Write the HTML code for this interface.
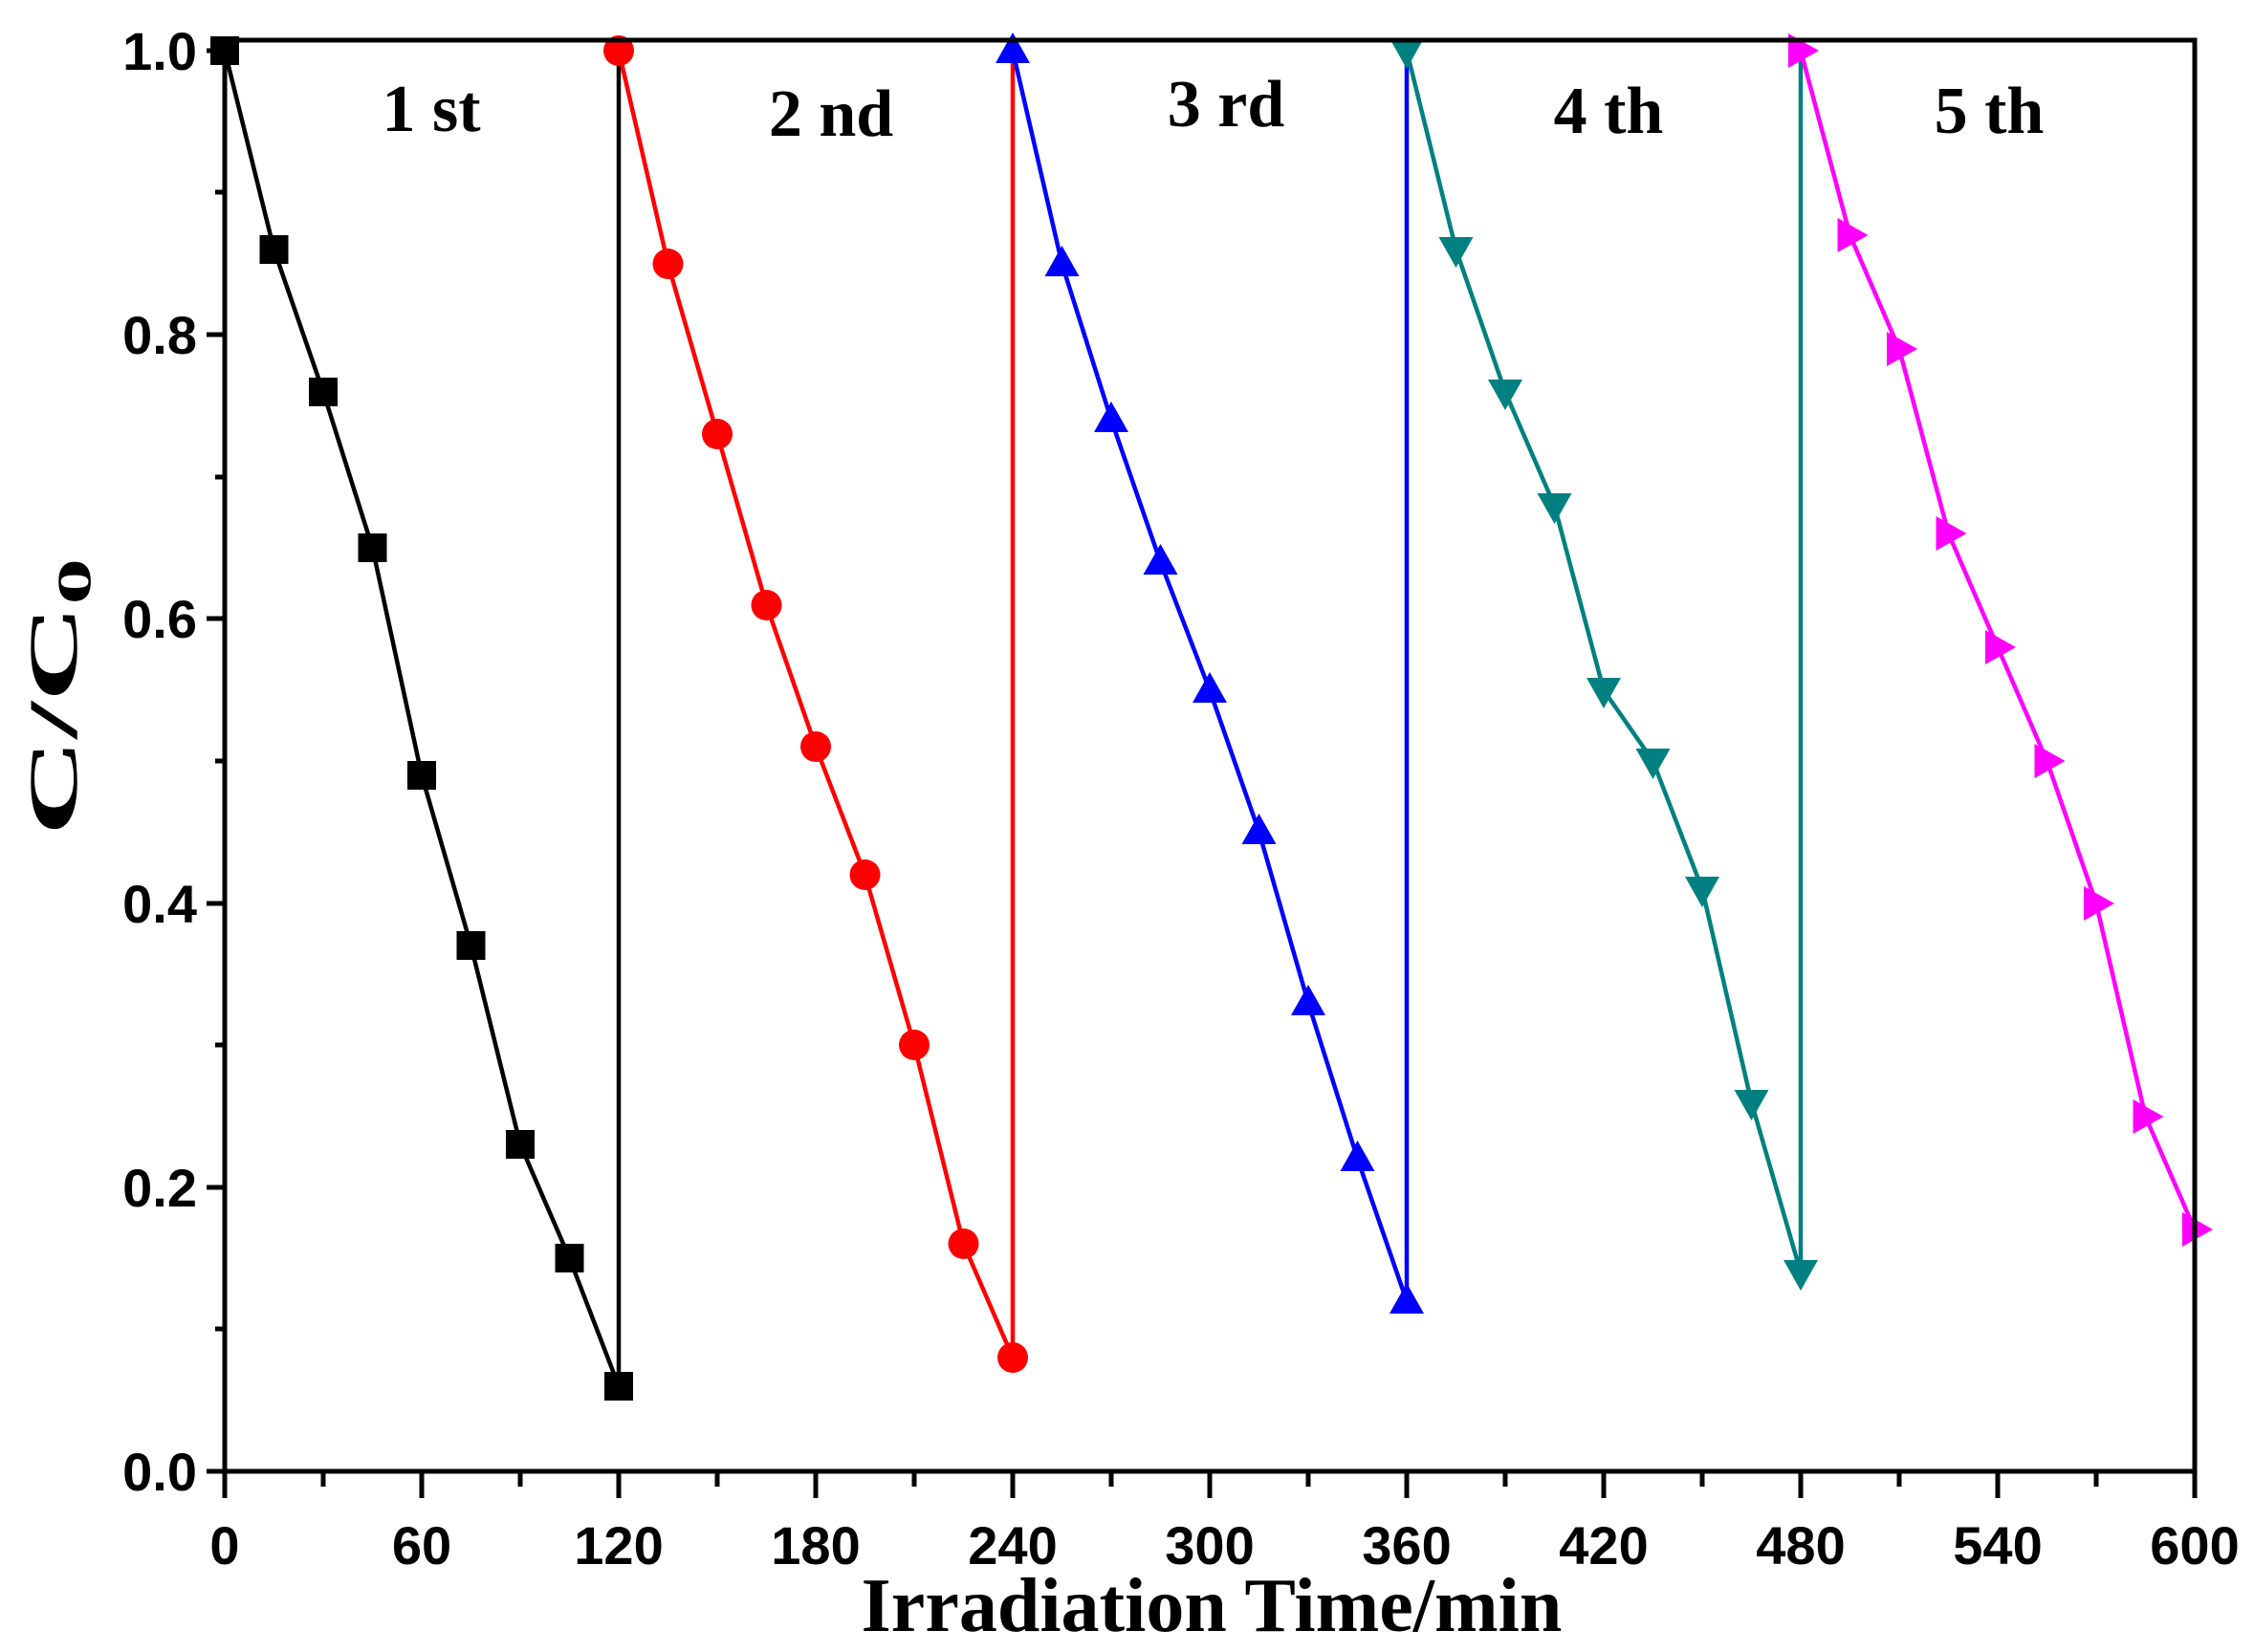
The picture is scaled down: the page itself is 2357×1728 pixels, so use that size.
<!DOCTYPE html>
<html><head><meta charset="utf-8"><style>
html,body{margin:0;padding:0;background:#fff;}
svg{display:block;}
</style></head><body>
<svg width="2357" height="1728" viewBox="0 0 2357 1728" xmlns="http://www.w3.org/2000/svg">
<defs>
<rect id="sq" x="-15" y="-15" width="30" height="30" fill="#000"/>
<circle id="ci" r="16" fill="#ff0000"/>
<polygon id="tu" points="0,-19 18,13 -18,13" fill="#0000ff"/>
<polygon id="td" points="0,19 18,-13 -18,-13" fill="#008080"/>
<polygon id="tr" points="19,0 -13,-18 -13,18" fill="#ff00ff"/>
</defs>
<rect width="2357" height="1728" fill="#fff"/>
<g fill="none" stroke-width="4.5" stroke-linejoin="round">
<polyline stroke="#000" points="235,53 286.5,261 338,410 389.5,573 441,811 492.5,989 544,1197 595.5,1316 647,1450 647,53"/>
<polyline stroke="#ff0000" points="647,53 698.5,276 750,454 801.5,633 853,781 904.5,915 956,1093 1007.5,1301 1059,1420 1059,53"/>
<polyline stroke="#0000ff" points="1059,53 1110.5,276 1162,439 1213.5,588 1265,722 1316.5,870 1368,1049 1419.5,1212 1471,1361 1471,53"/>
<polyline stroke="#008080" points="1471,53 1522.5,261 1574,410 1625.5,529 1677,722 1728.5,796 1780,930 1831.5,1153 1883,1331 1883,53"/>
<polyline stroke="#ff00ff" points="1883,53 1934.5,246 1986,365 2037.5,558 2089,677 2140.5,796 2192,945 2243.5,1168 2295,1286"/>
</g>
<g>
<use href="#sq" x="235" y="53"/><use href="#sq" x="286.5" y="261"/><use href="#sq" x="338" y="410"/><use href="#sq" x="389.5" y="573"/><use href="#sq" x="441" y="811"/><use href="#sq" x="492.5" y="989"/><use href="#sq" x="544" y="1197"/><use href="#sq" x="595.5" y="1316"/><use href="#sq" x="647" y="1450"/>
<use href="#ci" x="647" y="53"/><use href="#ci" x="698.5" y="276"/><use href="#ci" x="750" y="454"/><use href="#ci" x="801.5" y="633"/><use href="#ci" x="853" y="781"/><use href="#ci" x="904.5" y="915"/><use href="#ci" x="956" y="1093"/><use href="#ci" x="1007.5" y="1301"/><use href="#ci" x="1059" y="1420"/>
<use href="#tu" x="1059" y="53"/><use href="#tu" x="1110.5" y="276"/><use href="#tu" x="1162" y="439"/><use href="#tu" x="1213.5" y="588"/><use href="#tu" x="1265" y="722"/><use href="#tu" x="1316.5" y="870"/><use href="#tu" x="1368" y="1049"/><use href="#tu" x="1419.5" y="1212"/><use href="#tu" x="1471" y="1361"/>
<use href="#td" x="1471" y="53"/><use href="#td" x="1522.5" y="261"/><use href="#td" x="1574" y="410"/><use href="#td" x="1625.5" y="529"/><use href="#td" x="1677" y="722"/><use href="#td" x="1728.5" y="796"/><use href="#td" x="1780" y="930"/><use href="#td" x="1831.5" y="1153"/><use href="#td" x="1883" y="1331"/>
<use href="#tr" x="1883" y="53"/><use href="#tr" x="1934.5" y="246"/><use href="#tr" x="1986" y="365"/><use href="#tr" x="2037.5" y="558"/><use href="#tr" x="2089" y="677"/><use href="#tr" x="2140.5" y="796"/><use href="#tr" x="2192" y="945"/><use href="#tr" x="2243.5" y="1168"/><use href="#tr" x="2295" y="1286"/>
</g>
<rect x="235" y="42" width="2060" height="1497" fill="none" stroke="#000" stroke-width="5"/>
<g stroke="#000" stroke-width="5">
<line x1="216" y1="1539" x2="235" y2="1539"/><line x1="216" y1="1242" x2="235" y2="1242"/><line x1="216" y1="945" x2="235" y2="945"/><line x1="216" y1="647" x2="235" y2="647"/><line x1="216" y1="350" x2="235" y2="350"/><line x1="216" y1="53" x2="235" y2="53"/>
<line x1="225" y1="1390" x2="235" y2="1390"/><line x1="225" y1="1093" x2="235" y2="1093"/><line x1="225" y1="796" x2="235" y2="796"/><line x1="225" y1="499" x2="235" y2="499"/><line x1="225" y1="201" x2="235" y2="201"/>
<line x1="235" y1="1539" x2="235" y2="1567"/><line x1="441" y1="1539" x2="441" y2="1567"/><line x1="647" y1="1539" x2="647" y2="1567"/><line x1="853" y1="1539" x2="853" y2="1567"/><line x1="1059" y1="1539" x2="1059" y2="1567"/><line x1="1265" y1="1539" x2="1265" y2="1567"/><line x1="1471" y1="1539" x2="1471" y2="1567"/><line x1="1677" y1="1539" x2="1677" y2="1567"/><line x1="1883" y1="1539" x2="1883" y2="1567"/><line x1="2089" y1="1539" x2="2089" y2="1567"/><line x1="2295" y1="1539" x2="2295" y2="1567"/>
<line x1="338" y1="1539" x2="338" y2="1555"/><line x1="544" y1="1539" x2="544" y2="1555"/><line x1="750" y1="1539" x2="750" y2="1555"/><line x1="956" y1="1539" x2="956" y2="1555"/><line x1="1162" y1="1539" x2="1162" y2="1555"/><line x1="1368" y1="1539" x2="1368" y2="1555"/><line x1="1574" y1="1539" x2="1574" y2="1555"/><line x1="1780" y1="1539" x2="1780" y2="1555"/><line x1="1986" y1="1539" x2="1986" y2="1555"/><line x1="2192" y1="1539" x2="2192" y2="1555"/>
</g>
<g font-family="Liberation Sans, Arial, sans-serif" font-weight="bold" font-size="56" fill="#000">
<g text-anchor="end">
<text x="206" y="1559">0.0</text><text x="206" y="1262">0.2</text><text x="206" y="965">0.4</text><text x="206" y="667">0.6</text><text x="206" y="370">0.8</text><text x="206" y="73">1.0</text>
</g>
<g text-anchor="middle">
<text x="235" y="1636">0</text><text x="441" y="1636">60</text><text x="647" y="1636">120</text><text x="853" y="1636">180</text><text x="1059" y="1636">240</text><text x="1265" y="1636">300</text><text x="1471" y="1636">360</text><text x="1677" y="1636">420</text><text x="1883" y="1636">480</text><text x="2089" y="1636">540</text><text x="2295" y="1636">600</text>
</g>
</g>
<g font-family="Liberation Serif, 'Times New Roman', serif" font-weight="bold" fill="#000">
<text x="1267" y="1706" font-size="80" text-anchor="middle">Irradiation Time/min</text>
<text transform="translate(80,729) rotate(-90)" font-size="72" text-anchor="middle" textLength="290" lengthAdjust="spacingAndGlyphs">C/C<tspan font-size="50" dy="14">0</tspan></text>
<g font-size="70" text-anchor="middle">
<text x="451" y="137">1 st</text><text x="869" y="142">2 nd</text><text x="1282" y="132">3 rd</text><text x="1682" y="139">4 th</text><text x="2080" y="139">5 th</text>
</g>
</g>
</svg>
</body></html>
